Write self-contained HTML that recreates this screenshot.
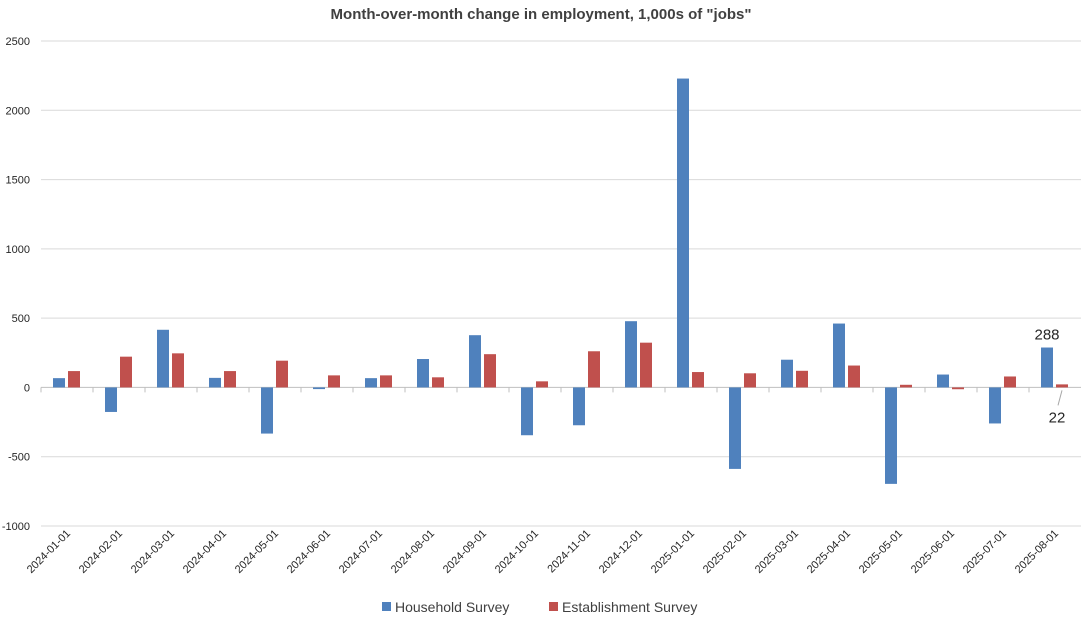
<!DOCTYPE html>
<html><head><meta charset="utf-8"><style>
body{margin:0;background:#fff;font-family:"Liberation Sans",sans-serif}
</style></head><body>
<svg id="chart" width="1081" height="624" xmlns="http://www.w3.org/2000/svg" font-family="Liberation Sans, sans-serif">
<text x="541" y="19" text-anchor="middle" font-size="15" font-weight="bold" fill="#404040">Month-over-month change in employment, 1,000s of "jobs"</text>
<g id="grid"></g><g id="bars"></g><g id="xlabels"></g>
<g>
<rect x="382" y="602" width="9" height="9" fill="#4F81BD"/>
<text x="395" y="612" font-size="14" fill="#404040">Household Survey</text>
<rect x="549" y="602" width="9" height="9" fill="#C0504D"/>
<text x="562" y="612" font-size="14" fill="#404040">Establishment Survey</text>
</g>
</svg>
<script>
const categories=["2024-01-01","2024-02-01","2024-03-01","2024-04-01","2024-05-01","2024-06-01","2024-07-01","2024-08-01","2024-09-01","2024-10-01","2024-11-01","2024-12-01","2025-01-01","2025-02-01","2025-03-01","2025-04-01","2025-05-01","2025-06-01","2025-07-01","2025-08-01"];
const household=[67,-177,416,69,-333,-12,67,205,377,-345,-273,478,2229,-588,200,461,-696,93,-260,288];
const establishment=[118,222,246,118,193,87,87,73,240,44,261,323,111,102,120,158,19,-13,79,22];
const yTicks=[-1000,-500,0,500,1000,1500,2000,2500];
const NS="http://www.w3.org/2000/svg";
const x0=41,cw=52,yTop=41,yBot=526,vMin=-1000,vMax=2500;
function y(v){return yBot-(v-vMin)/(vMax-vMin)*(yBot-yTop);}
function xc(i){return x0+i*cw;}
function mk(t,a,p){const e=document.createElementNS(NS,t);for(const k in a)e.setAttribute(k,a[k]);p.appendChild(e);return e;}
const grid=document.getElementById('grid'),bars=document.getElementById('bars'),xl=document.getElementById('xlabels');
yTicks.forEach(v=>{
 const l=mk('line',{x1:x0,x2:1081,y1:y(v),y2:y(v),stroke:v===0?'#bfbfbf':'#d9d9d9','stroke-width':1},grid);
 
 
 const t=mk('text',{x:30,y:y(v)+4,'text-anchor':'end','font-size':11,fill:'#262626'},grid);
 t.textContent=v;
 
 
});
categories.forEach((c,i)=>{
 const tk=mk('line',{x1:xc(i),x2:xc(i),y1:y(0),y2:y(0)+5,stroke:'#bfbfbf'},grid);
 
 
 const h=household[i],e=establishment[i];
 const b1=mk('rect',{x:xc(i)+12,width:12,y:Math.min(y(h),y(0)),height:Math.abs(y(h)-y(0)),fill:'#4F81BD'},bars);
 
 
 const b2=mk('rect',{x:xc(i)+27,width:12,y:Math.min(y(e),y(0)),height:Math.abs(y(e)-y(0)),fill:'#C0504D'},bars);
 
 
 const cx=xc(i)+26;
 const t=mk('text',{x:0,y:0,'text-anchor':'end','font-size':11,fill:'#262626',transform:`translate(${cx+4},${y(vMin)+8}) rotate(-45)`},xl);
 t.textContent=c;
 
 
});
const n=categories.length-1;
const l1=mk('text',{x:xc(n)+18,y:y(household[n])-8,'text-anchor':'middle','font-size':15,fill:'#262626'},bars);
l1.textContent=household[n];


const ln=mk('line',{x1:xc(n)+33,y1:y(0)+3,x2:xc(n)+29,y2:y(0)+18,stroke:'#a6a6a6'},bars);


const l2=mk('text',{x:xc(n)+28,y:y(0)+35,'text-anchor':'middle','font-size':15,fill:'#262626'},bars);
l2.textContent=establishment[n];


</script>
</body></html>
